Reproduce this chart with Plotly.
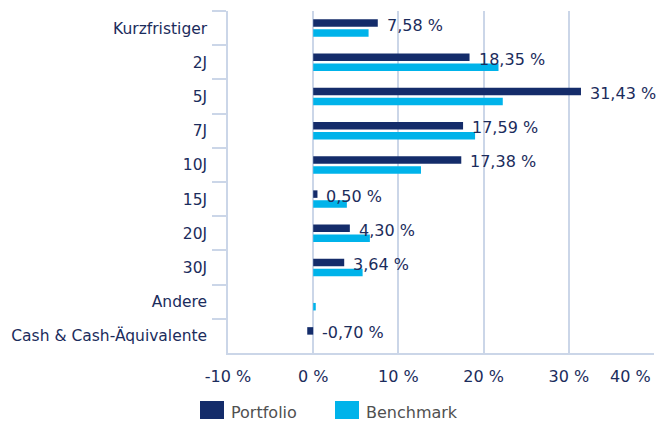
import plotly.graph_objects as go

# Laufzeitbuckets (top to bottom) and weights in percent
categories = ["Kurzfristiger", "2J", "5J", "7J", "10J", "15J", "20J", "30J",
              "Andere", "Cash & Cash-Äquivalente"]
portfolio = [7.58, 18.35, 31.43, 17.59, 17.38, 0.50, 4.30, 3.64, None, -0.70]
benchmark = [6.5, 21.75, 22.25, 19.0, 12.65, 3.95, 6.65, 5.8, 0.3, None]

x_tickvals = [-10, 0, 10, 20, 30, 40]
x_ticktext = ["-10 %", "0 %", "10 %", "20 %", "30 %", "40 %"]

NAVY = "#142c6a"
CYAN = "#00b3ea"
GRID = "#cbd6e8"
TEXT = "#1b2c5c"
FONT = "DejaVu Sans"

W, H = 667, 421
ML, MR, MT, MB = 228, 13, 11, 68
PW, PH = W - ML - MR, H - MT - MB


def px_x(px):
    return (px - ML) / PW


def px_y(py):
    return (H - MB - py) / PH


fig = go.Figure()
fig.add_trace(go.Bar(y=categories, x=portfolio, orientation="h", name="Portfolio",
                     marker=dict(color=NAVY, line=dict(width=0)), showlegend=False))
fig.add_trace(go.Bar(y=categories, x=benchmark, orientation="h", name="Benchmark",
                     marker=dict(color=CYAN, line=dict(width=0)), showlegend=False))


def fmt(v):
    return f"{v:.2f}".replace(".", ",") + " %"


annotations = []
for cat, v in zip(categories, portfolio):
    if v is None:
        continue
    annotations.append(dict(x=max(v, 0), y=cat, xref="x", yref="y", text=fmt(v),
                            showarrow=False, xanchor="left", yanchor="middle",
                            xshift=7, yshift=3,
                            font=dict(family=FONT, size=16, color=TEXT)))

# the outermost tick label is right-aligned to its tick so it stays inside the canvas
x_ticktext_shown = list(x_ticktext)
x_ticktext_shown[-1] = ""
annotations.append(dict(x=x_tickvals[-1], y=0, xref="x", yref="paper",
                        text=x_ticktext[-1], showarrow=False,
                        xanchor="right", yanchor="middle", xshift=-1, yshift=-23,
                        font=dict(family=FONT, size=16, color=TEXT)))

# legend drawn as swatches + labels below the plot
shapes = []
legend_items = [("Portfolio", NAVY, 200), ("Benchmark", CYAN, 335)]
for label, color, x0 in legend_items:
    shapes.append(dict(type="rect", xref="paper", yref="paper",
                       x0=px_x(x0), x1=px_x(x0 + 24), y0=px_y(419), y1=px_y(401),
                       fillcolor=color, line=dict(width=0)))
    annotations.append(dict(x=px_x(x0 + 29), y=px_y(412), xref="paper", yref="paper",
                            text=label, showarrow=False, xanchor="left", yanchor="middle",
                            font=dict(family=FONT, size=16, color="#505050")))

fig.update_layout(
    width=W, height=H,
    margin=dict(l=ML, r=MR, t=MT, b=MB, pad=0, autoexpand=False),
    paper_bgcolor="white", plot_bgcolor="white",
    barmode="group", bargap=0.415, bargroupgap=0.25,
    font=dict(family=FONT, size=15, color=TEXT),
    annotations=annotations, shapes=shapes,
    xaxis=dict(range=[-10, 40], tickvals=x_tickvals, ticktext=x_ticktext_shown,
               automargin=False,
               showgrid=True, gridcolor=GRID, gridwidth=1.5,
               zeroline=False, showline=True, linecolor=GRID, linewidth=1.5,
               ticks="", ticklabelstandoff=8,
               tickfont=dict(family=FONT, size=16, color=TEXT)),
    yaxis=dict(autorange="reversed", type="category", automargin=False,
               showgrid=False, zeroline=False,
               showline=True, linecolor=GRID, linewidth=1.5,
               ticks="outside", tickson="boundaries", ticklen=14,
               tickcolor=GRID, tickwidth=1.5, ticklabelstandoff=16,
               tickfont=dict(family=FONT, size=15.5, color=TEXT)),
)

fig.write_html("out.html")
